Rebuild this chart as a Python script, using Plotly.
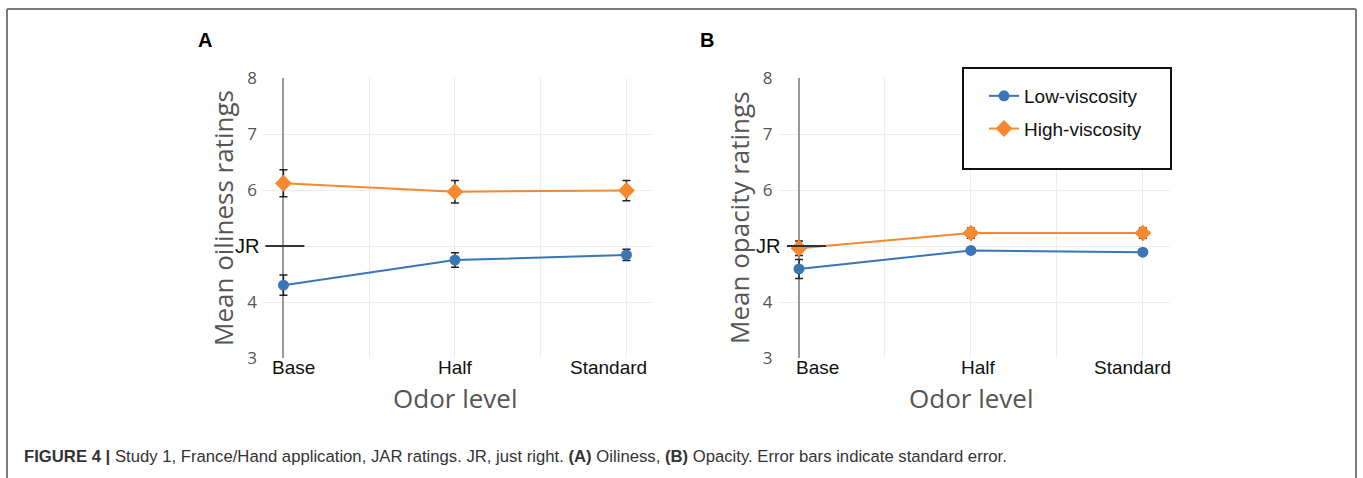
import plotly.graph_objects as go

# ---------------- data ----------------
categories = ["Base", "Half", "Standard"]
x_index = [0, 1, 2]
series_names = ["Low-viscosity", "High-viscosity"]

oil_low = [4.30, 4.75, 4.84]
oil_low_se = [0.18, 0.13, 0.10]
oil_high = [6.12, 5.97, 5.99]
oil_high_se = [0.24, 0.20, 0.18]

opa_low = [4.59, 4.92, 4.89]
opa_low_se = [0.17, 0.03, 0.03]
opa_high = [4.96, 5.23, 5.23]
opa_high_se = [0.13, 0.09, 0.09]

y_tick_vals = [3, 4, 5, 6, 7, 8]
y_tick_text = ["3", "4", "", "6", "7", "8"]
jr_value = 5
jr_label = "JR"
panel_labels = ["A", "B"]
y_titles = ["Mean oiliness ratings", "Mean opacity ratings"]
x_title = "Odor level"
caption = ("<b>FIGURE 4 |</b> Study 1, France/Hand application, JAR ratings. JR, just right. "
           "<b>(A)</b> Oiliness, <b>(B)</b> Opacity. Error bars indicate standard error.")

# ---------------- style ----------------
W, H = 1363, 478
BLUE = "#3a76b6"
ORANGE = "#f4892f"
GRID = "#ededed"
ARIAL = "Liberation Sans, Arial, sans-serif"
OPEN = "Open Sans, sans-serif"


def px(x):
    return x / W


def py(y):
    return 1 - y / H


panels = [
    dict(low=oil_low, low_se=oil_low_se, high=oil_high, high_se=oil_high_se,
         dom=[px(262), px(653)],
         shifts=[10, 1, -18], jr_x=261, jr_line=(-18, 21), letter_x=205, ytitle_x=223),
    dict(low=opa_low, low_se=opa_low_se, high=opa_high, high_se=opa_high_se,
         dom=[px(777.5), px(1169.5)],
         shifts=[19, 8, -10], jr_x=782, jr_line=(-12, 27), letter_x=707, ytitle_x=739),
]

fig = go.Figure()
annotations = []
shapes = []

for p_i, p in enumerate(panels):
    xa = "x" if p_i == 0 else "x2"
    ya = "y" if p_i == 0 else "y2"
    for s_i, (vals, errs, color, symbol, size) in enumerate([
        (p["low"], p["low_se"], BLUE, "circle", 11),
        (p["high"], p["high_se"], ORANGE, "diamond", 13),
    ]):
        fig.add_trace(go.Scatter(
            x=x_index, y=vals, xaxis=xa, yaxis=ya,
            mode="lines+markers", name=series_names[s_i],
            legendgroup=series_names[s_i], showlegend=(p_i == 1),
            line=dict(color=color, width=2),
            marker=dict(color=color, size=size, symbol=symbol),
            error_y=dict(type="data", array=errs, visible=True,
                         color="#222222", thickness=1.5, width=4),
        ))

    # category labels
    for i, cat in enumerate(categories):
        annotations.append(dict(
            x=x_index[i], xref=xa, y=py(367), yref="paper", yanchor="middle",
            text=cat, showarrow=False, xshift=p["shifts"][i],
            font=dict(family=ARIAL, size=19, color="#111111")))

    # JR label and reference line
    annotations.append(dict(
        x=px(p["jr_x"]), xref="paper", xanchor="right", y=jr_value, yref=ya,
        yanchor="middle", text=jr_label, showarrow=False,
        font=dict(family=ARIAL, size=20, color="#111111")))
    shapes.append(dict(
        type="line", xref=xa, yref=ya, xsizemode="pixel", xanchor=x_index[0],
        x0=p["jr_line"][0], x1=p["jr_line"][1], y0=jr_value, y1=jr_value,
        line=dict(color="#333333", width=2), layer="above"))

    # axis titles
    annotations.append(dict(
        x=px(p["ytitle_x"]), xref="paper", xanchor="center",
        y=py(218), yref="paper", yanchor="middle", textangle=-90,
        text=y_titles[p_i], showarrow=False,
        font=dict(family=OPEN, size=26, color="#555555")))
    annotations.append(dict(
        x=x_index[1], xref=xa, y=py(398), yref="paper", yanchor="middle",
        text=x_title, showarrow=False,
        font=dict(family=OPEN, size=26, color="#555555")))

    # panel letter
    annotations.append(dict(
        x=px(p["letter_x"]), xref="paper", y=py(40), yref="paper",
        xanchor="center", yanchor="middle", text="<b>%s</b>" % panel_labels[p_i],
        showarrow=False, font=dict(family=ARIAL, size=20, color="#000000")))

# caption
annotations.append(dict(
    x=px(22), xref="paper", xanchor="left", y=py(456), yref="paper",
    yanchor="middle", text=caption, showarrow=False,
    font=dict(family=ARIAL, size=16.7, color="#333333")))

# frame + legend box
frame_col = "#7a7a7a"
shapes += [
    dict(type="line", xref="paper", yref="paper", x0=px(7), x1=px(1356),
         y0=py(9), y1=py(9), line=dict(color=frame_col, width=2)),
    dict(type="line", xref="paper", yref="paper", x0=px(7), x1=px(7),
         y0=py(9), y1=0, line=dict(color=frame_col, width=2)),
    dict(type="line", xref="paper", yref="paper", x0=px(1356), x1=px(1356),
         y0=py(9), y1=0, line=dict(color=frame_col, width=2)),
    dict(type="rect", xref="paper", yref="paper", x0=px(963), x1=px(1171),
         y0=py(169), y1=py(68), line=dict(color="#111111", width=2),
         fillcolor="white", layer="above"),
]

xaxis_common = dict(
    range=[-0.125, 2.155], tickvals=x_index, showticklabels=False,
    showgrid=True, gridcolor=GRID, gridwidth=1,
    zeroline=True, zerolinecolor="#999999", zerolinewidth=1.5,
    minor=dict(tickvals=[0.5, 1.5], showgrid=True, gridcolor=GRID, gridwidth=1),
    showline=False, ticks="", fixedrange=True, automargin=False,
)
yaxis_common = dict(
    range=[3, 8], tickvals=y_tick_vals, ticktext=y_tick_text,
    tickfont=dict(family=OPEN, size=17, color="#555555"),
    ticklabelstandoff=4,
    showgrid=True, gridcolor=GRID, gridwidth=1, zeroline=False,
    showline=False, ticks="", fixedrange=True, automargin=False,
    domain=[py(358), py(78)],
)

fig.update_layout(
    width=W, height=H, autosize=False,
    margin=dict(l=0, r=0, t=0, b=0, pad=0, autoexpand=False),
    paper_bgcolor="white", plot_bgcolor="white",
    xaxis=dict(domain=panels[0]["dom"], anchor="y", **xaxis_common),
    yaxis=dict(anchor="x", **yaxis_common),
    xaxis2=dict(domain=panels[1]["dom"], anchor="y2", **xaxis_common),
    yaxis2=dict(anchor="x2", **yaxis_common),
    showlegend=True,
    legend=dict(x=px(984), y=py(77), xanchor="left", yanchor="top",
                bgcolor="rgba(0,0,0,0)", borderwidth=0,
                font=dict(family=ARIAL, size=19, color="#111111"),
                tracegroupgap=5, traceorder="grouped"),
    annotations=annotations,
    shapes=shapes,
)

fig.write_html(
    "out.html",
    config={"displayModeBar": False},
    post_script="document.body.style.margin='0';document.body.style.padding='0';"
                "document.documentElement.style.overflow='hidden';",
)
